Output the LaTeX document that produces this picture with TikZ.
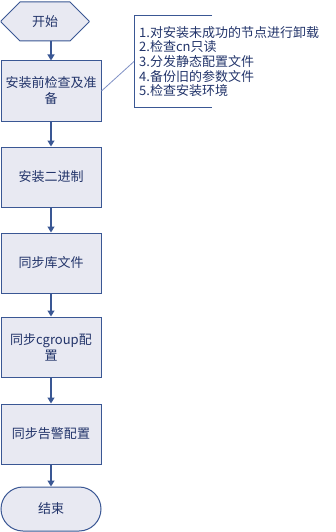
\documentclass[tikz,border=0pt]{standalone}
\usepackage{fontspec}
\setmainfont{Noto Sans CJK SC}
\usetikzlibrary{shapes.misc,arrows.meta}

\definecolor{boxline}{HTML}{3A5794}
\definecolor{boxfill}{HTML}{E8E9F2}
\definecolor{boxtext}{HTML}{22346A}
\definecolor{noteline}{HTML}{7F90C4}

\begin{document}
\begin{tikzpicture}[x=1pt,y=-1pt,
  stepbox/.style={draw=boxline, fill=boxfill, line width=1pt, text=boxtext,
    minimum width=100pt, minimum height=60pt, text width=96pt, align=center,
    font=\fontsize{13}{16}\selectfont, inner sep=0pt},
  startbox/.style={draw=boxline, fill=boxfill, line width=1pt, text=boxtext,
    chamfered rectangle, chamfered rectangle xsep=14pt, chamfered rectangle ysep=19.5pt,
    minimum width=88pt, minimum height=39pt, inner sep=0pt,
    font=\fontsize{13}{16}\selectfont},
  endbox/.style={draw=boxline, fill=boxfill, line width=1pt, text=boxtext,
    rounded rectangle, minimum width=100pt, minimum height=44pt, inner sep=0pt,
    font=\fontsize{13}{16}\selectfont},
  flow/.style={draw=boxline, line width=1.2pt, -{Triangle[width=7pt,length=6pt]}}]

  % Canvas
  \useasboundingbox (0,0) rectangle (336,532);

  % Steps
  \node[startbox] (start) at (45,21.5) {开始};
  \node[stepbox] (check) at (51,91) {安装前检查及准\\备};
  \node[stepbox] (binary) at (51,177) {安装二进制};
  \node[stepbox] (libs) at (51,263) {同步库文件};
  \node[stepbox] (cgroup) at (51,347) {同步cgroup配\\置};
  \node[stepbox] (alarm) at (51,434) {同步告警配置};
  \node[endbox] (finish) at (51,509) {结束};

  % Arrows
  \draw[flow] (start.south -| check.north) -- (check);
  \draw[flow] (check) -- (binary);
  \draw[flow] (binary) -- (libs);
  \draw[flow] (libs) -- (cgroup);
  \draw[flow] (cgroup) -- (alarm);
  \draw[flow] (alarm) -- (finish);

  % Note on the first step
  \node[anchor=west, text=boxtext, align=left, inner sep=0pt, minimum height=91pt,
    font=\fontsize{13}{14.7}\selectfont] (note) at (139,61.5)
    {1.对安装未成功的节点进行卸载\\2.检查cn只读\\3.分发静态配置文件\\4.备份旧的参数文件\\5.检查安装环境};
  \coordinate (brk) at (134,61.5);
  \draw[boxline, line width=1pt] ([xshift=73pt]note.north west) -- ([xshift=-5pt]note.north west)
    -- ([xshift=-5pt]note.south west) -- ([xshift=73pt]note.south west);
  \draw[noteline, line width=0.8pt] (check.east) -- (brk);

\end{tikzpicture}
\end{document}
